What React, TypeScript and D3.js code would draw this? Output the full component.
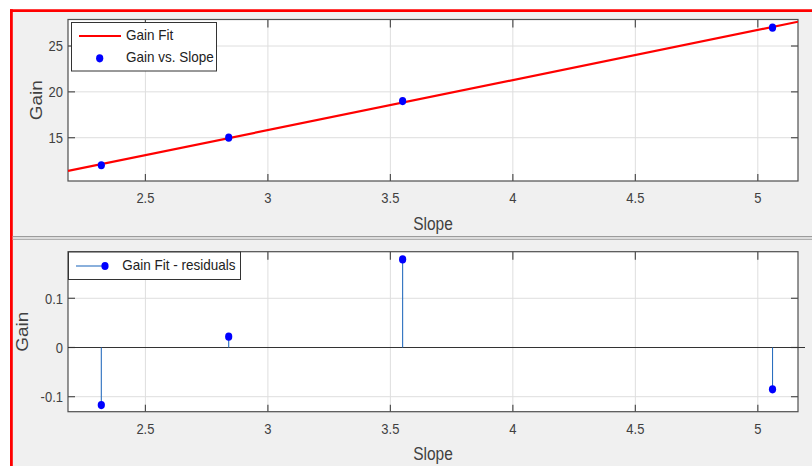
import React from "react";
import * as d3 from "d3";

// ---- data ----
const slope = [2.32, 2.84, 3.55, 5.06];
const gain = [12.0, 15.0, 19.0, 27.0];
const residuals = [-0.117, 0.022, 0.179, -0.085];
const fitCoef = [5.46, -0.55]; // slope, intercept of Gain Fit
const xTicks = [2.5, 3, 3.5, 4, 4.5, 5];
const yTicksTop = [15, 20, 25];
const yTicksBottom = [-0.1, 0, 0.1];
const xDomain = [2.184, 5.164];
const yDomainTop = [10.28, 27.89];
const yDomainBottom = [-0.1305, 0.1947];

const W = 812;
const H = 466;
const SY = 1.15;
const AX_L = 68;
const AX_R = 798;
const TOP = { t: 19.5, b: 181 };
const BOT = { t: 251.7, b: 411.7 };
const FONT = "'Liberation Sans', Arial, sans-serif";
const TICK_COLOR = "#404040";
const AXIS_COLOR = "#4f4f4f";
const GRID_COLOR = "#dedede";

function T(props: {
  x: number;
  y: number;
  size: number;
  anchor?: string;
  fill?: string;
  rotate?: boolean;
  children: React.ReactNode;
}) {
  const { x, y, size, anchor = "start", fill = TICK_COLOR, rotate = false } = props;
  return (
    <text
      transform={`translate(${x},${y}) scale(1,${SY})${rotate ? " rotate(-90)" : ""}`}
      fontSize={size}
      fontFamily={FONT}
      textAnchor={anchor}
      fill={fill}
    >
      {props.children}
    </text>
  );
}

function Axes(props: {
  top: number;
  bottom: number;
  y: d3.ScaleLinear<number, number>;
  yTicks: number[];
  fmt: (v: number) => string;
  gainX: number;
  grid0?: boolean;
}) {
  const { top, bottom, y, yTicks, fmt, gainX } = props;
  const x = d3.scaleLinear().domain(xDomain).range([AX_L, AX_R]);
  const tk = 7;
  return (
    <g>
      <rect x={AX_L} y={top} width={AX_R - AX_L} height={bottom - top} fill="#ffffff" />
      {xTicks.map((t) => (
        <line key={"gx" + t} x1={x(t)} x2={x(t)} y1={top} y2={bottom} stroke={GRID_COLOR} strokeWidth={1} />
      ))}
      {yTicks.map((t) =>
        props.grid0 && t === 0 ? null : (
          <line key={"gy" + t} x1={AX_L} x2={AX_R} y1={y(t)} y2={y(t)} stroke={GRID_COLOR} strokeWidth={1} />
        )
      )}
      <rect x={AX_L} y={top} width={AX_R - AX_L} height={bottom - top} fill="none" stroke={AXIS_COLOR} strokeWidth={1.2} />
      {xTicks.map((t) => (
        <g key={"tx" + t}>
          <line x1={x(t)} x2={x(t)} y1={bottom} y2={bottom - tk} stroke={AXIS_COLOR} strokeWidth={1.2} />
          <line x1={x(t)} x2={x(t)} y1={top} y2={top + tk + 1} stroke={AXIS_COLOR} strokeWidth={1.2} />
          <T x={x(t)} y={bottom + 22} size={13} anchor="middle">
            {String(t)}
          </T>
        </g>
      ))}
      {yTicks.map((t) => (
        <g key={"ty" + t}>
          <line x1={AX_L} x2={AX_L + tk} y1={y(t)} y2={y(t)} stroke={AXIS_COLOR} strokeWidth={1.2} />
          <line x1={AX_R} x2={AX_R - tk} y1={y(t)} y2={y(t)} stroke={AXIS_COLOR} strokeWidth={1.2} />
          <T x={63} y={y(t) + 5.3} size={13} anchor="end">
            {fmt(t)}
          </T>
        </g>
      ))}
      <T x={(AX_L + AX_R) / 2} y={bottom + 48.5} size={15.5} anchor="middle">
        Slope
      </T>
      <T x={gainX} y={(top + bottom) / 2} size={16.5} anchor="middle" rotate>
        Gain
      </T>
    </g>
  );
}

export default function App() {
  const x = d3.scaleLinear().domain(xDomain).range([AX_L, AX_R]);
  const yT = d3.scaleLinear().domain(yDomainTop).range([TOP.b, TOP.t]);
  const yB = d3.scaleLinear().domain(yDomainBottom).range([BOT.b, BOT.t]);
  const fitLine = d3
    .line<number>()
    .x((d) => x(d))
    .y((d) => yT(fitCoef[0] * d + fitCoef[1]));
  const fmtB = (v: number) => (v === 0 ? "0" : String(v));

  return (
    <svg
      width={W}
      height={H}
      style={{ position: "fixed", left: 0, top: 0, display: "block" }}
      xmlns="http://www.w3.org/2000/svg"
    >
      <rect x={0} y={0} width={W} height={H} fill="#ffffff" />
      <rect x={11} y={10} width={W - 11} height={H - 10} fill="#f0f0f0" />
      {/* red frame */}
      <line x1={10} x2={W} y1={10.6} y2={10.6} stroke="#ff0000" strokeWidth={2.8} />
      <line x1={11.4} x2={11.4} y1={9.2} y2={H} stroke="#ff0000" strokeWidth={2.8} />
      {/* splitter */}
      <rect x={12.8} y={236} width={W - 12.8} height={4} fill="#dcdcdc" />
      <line x1={12.8} x2={W} y1={236.5} y2={236.5} stroke="#9c9c9c" strokeWidth={1} />
      <line x1={12.8} x2={W} y1={239.5} y2={239.5} stroke="#b0b0b0" strokeWidth={1} />

      {/* top axes */}
      <Axes top={TOP.t} bottom={TOP.b} y={yT} yTicks={yTicksTop} fmt={(v) => String(v)} gainX={41.5} />
      <defs>
        <clipPath id="clipTop">
          <rect x={AX_L} y={TOP.t} width={AX_R - AX_L} height={TOP.b - TOP.t} />
        </clipPath>
      </defs>
      <g clipPath="url(#clipTop)">
        <path d={fitLine(xDomain) || ""} stroke="#ff0000" strokeWidth={2.2} fill="none" />
      </g>
      {slope.map((s, i) => (
        <ellipse key={"p" + i} cx={x(s)} cy={yT(gain[i])} rx={3.6} ry={4.1} fill="#0000ff" />
      ))}
      {/* top legend */}
      <rect x={71.5} y={22.5} width={145} height={48.5} fill="#ffffff" stroke="#333333" strokeWidth={1} />
      <line x1={79} x2={121} y1={36} y2={36} stroke="#ff0000" strokeWidth={2.2} />
      <T x={126} y={39.5} size={13.5} fill="#222222">
        Gain Fit
      </T>
      <ellipse cx={99.7} cy={58.3} rx={3.6} ry={4.1} fill="#0000ff" />
      <T x={126} y={61.5} size={13.5} fill="#222222">
        Gain vs. Slope
      </T>

      {/* bottom axes */}
      <Axes top={BOT.t} bottom={BOT.b} y={yB} yTicks={yTicksBottom} fmt={fmtB} gainX={27.5} grid0 />
      <line x1={AX_L} x2={805} y1={yB(0)} y2={yB(0)} stroke="#333333" strokeWidth={1.2} />
      {slope.map((s, i) => (
        <g key={"r" + i}>
          <line x1={x(s)} x2={x(s)} y1={yB(0)} y2={yB(residuals[i])} stroke="#2a6fbf" strokeWidth={1.1} />
          <ellipse cx={x(s)} cy={yB(residuals[i])} rx={3.6} ry={4.1} fill="#0000ff" />
        </g>
      ))}
      {/* bottom legend */}
      <rect x={68.5} y={252} width={172} height={27.5} fill="#ffffff" stroke="#333333" strokeWidth={1} />
      <line x1={76} x2={105} y1={266} y2={266} stroke="#2a6fbf" strokeWidth={1.1} />
      <ellipse cx={105} cy={266} rx={3.6} ry={4.1} fill="#0000ff" />
      <T x={122.3} y={270} size={13.5} fill="#222222">
        Gain Fit - residuals
      </T>
    </svg>
  );
}
